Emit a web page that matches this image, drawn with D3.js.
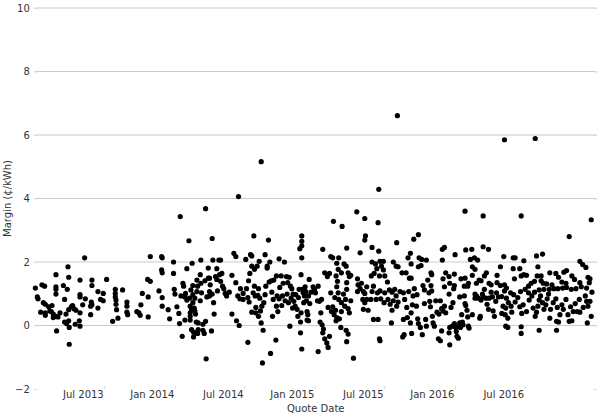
<!DOCTYPE html>
<html>
<head>
<meta charset="utf-8">
<script src="https://cdn.jsdelivr.net/npm/d3@7"></script>
<style>
  body { margin: 0; background: #fff; }
  svg { font-family: "DejaVu Sans", sans-serif; }
</style>
</head>
<body>
<svg id="chart" width="600" height="418"></svg>
<script>
// quote date as decimal year, margin in cents/kWh
const quotes2013 = [
  [2013.004,1.18],[2013.018,0.90],[2013.023,0.84],[2013.042,0.42],[2013.051,1.28],[2013.070,1.24],[2013.061,0.72],[2013.075,0.67],
  [2013.075,0.40],[2013.075,0.32],[2013.099,0.59],[2013.108,0.46],[2013.123,0.63],[2013.118,0.44],[2013.132,0.36],[2013.132,0.25],
  [2013.151,1.60],[2013.151,1.22],[2013.151,1.14],[2013.151,0.99],[2013.156,-0.17],[2013.151,0.29],[2013.166,0.27],[2013.180,0.40],
  [2013.204,1.26],[2013.213,0.82],[2013.213,0.11],[2013.223,0.36],[2013.227,0.06],[2013.232,1.14],[2013.237,1.85],[2013.242,1.52],
  [2013.242,0.50],[2013.242,0.15],[2013.246,-0.06],[2013.246,-0.59],[2013.261,0.59],[2013.270,0.63],[2013.280,0.53],[2013.289,0.04],
  [2013.294,0.48],[2013.323,1.43],[2013.323,0.97],[2013.323,0.90],[2013.323,0.40],[2013.318,0.15],[2013.323,-0.02],[2013.342,0.65],
  [2013.356,2.13],[2013.361,0.84],[2013.399,0.61],[2013.399,0.34],[2013.408,1.43],[2013.408,1.26],[2013.404,0.74],[2013.408,0.65],
  [2013.451,1.07],[2013.451,0.55],[2013.470,0.82],[2013.489,1.01],[2013.489,0.78],[2013.513,1.45],[2013.556,0.13],[2013.575,1.14],
  [2013.575,1.01],[2013.575,0.90],[2013.580,0.80],[2013.580,0.67],[2013.584,0.50],[2013.594,0.23],[2013.627,1.12],[2013.658,0.74],
  [2013.658,0.61],[2013.658,0.42],[2013.663,0.34],[2013.729,0.44],[2013.744,0.40],[2013.758,0.65],[2013.753,0.32],[2013.768,1.01],
  [2013.810,0.90],[2013.810,0.27],[2013.806,1.45],[2013.825,1.39],[2013.825,2.17],[2013.887,1.09],[2013.906,2.17],[2013.910,2.13],
  [2013.906,1.75],[2013.910,1.66],[2013.910,0.88],[2013.910,0.61],[2013.953,0.50],[2013.963,0.21],[2013.991,2.00],[2013.991,1.64],
  [2013.996,1.14]
];
const quotes2014 = [
  [2014.001,0.99],[2014.015,0.59],[2014.029,0.38],[2014.039,3.43],[2014.034,0.06],[2014.053,-0.34],[2014.044,0.93],[2014.058,1.33],
  [2014.063,1.24],[2014.072,0.90],[2014.072,0.17],[2014.077,1.01],[2014.086,1.79],[2014.086,0.80],[2014.101,2.67],[2014.105,0.86],
  [2014.110,0.61],[2014.110,0.40],[2014.110,0.29],[2014.110,0.17],[2014.115,1.12],[2014.120,-0.13],[2014.124,1.96],[2014.120,0.50],
  [2014.129,1.26],[2014.129,0.97],[2014.129,0.72],[2014.134,-0.21],[2014.134,-0.36],[2014.139,0.55],[2014.143,0.86],[2014.143,0.46],
  [2014.148,0.36],[2014.153,0.11],[2014.153,-0.23],[2014.158,1.43],[2014.158,1.07],[2014.163,1.24],[2014.167,0.08],[2014.163,-0.25],
  [2014.167,-0.13],[2014.182,1.60],[2014.182,0.78],[2014.186,2.06],[2014.186,1.33],[2014.191,1.03],[2014.201,0.04],[2014.201,-0.15],
  [2014.210,-0.25],[2014.220,3.68],[2014.224,-1.05],[2014.220,0.13],[2014.215,1.41],[2014.229,0.90],[2014.239,1.49],[2014.239,1.81],
  [2014.248,1.49],[2014.248,1.07],[2014.248,0.93],[2014.253,1.28],[2014.262,-0.17],[2014.267,2.74],[2014.267,0.99],[2014.272,2.06],
  [2014.277,0.72],[2014.281,0.36],[2014.291,1.54],[2014.300,1.79],[2014.300,1.45],[2014.305,1.09],[2014.315,2.06],[2014.320,1.60],
  [2014.617,5.16],[2014.455,4.06],[2014.327,2.06],[2014.336,1.64],[2014.327,1.39],[2014.341,1.24],[2014.350,1.16],[2014.360,1.01],
  [2014.370,0.93],[2014.389,1.05],[2014.408,1.58],[2014.408,0.36],[2014.422,2.27],[2014.436,2.17],[2014.436,1.35],[2014.441,0.15],
  [2014.450,0.93],[2014.460,0.00],[2014.469,1.16],[2014.465,0.84],[2014.488,1.01],[2014.488,0.82],[2014.507,2.08],[2014.512,1.16],
  [2014.522,-0.53],[2014.522,0.88],[2014.527,1.41],[2014.531,0.74],[2014.536,1.64],[2014.541,2.23],[2014.550,1.87],[2014.550,2.19],
  [2014.550,0.42],[2014.560,1.03],[2014.565,2.82],[2014.569,1.77],[2014.569,1.24],[2014.574,0.93],[2014.579,0.57],[2014.579,0.40],
  [2014.588,1.87],[2014.593,0.95],[2014.598,0.29],[2014.598,1.16],[2014.603,2.02],[2014.607,0.86],[2014.612,0.46],[2014.617,0.08],
  [2014.622,0.61],[2014.626,-1.18],[2014.631,-0.15],[2014.636,0.72],[2014.645,2.23],[2014.645,0.97],[2014.650,1.24],[2014.660,1.87],
  [2014.660,1.81],[2014.669,2.69],[2014.674,1.37],[2014.679,2.00],[2014.684,-0.88],[2014.688,1.41],[2014.693,1.05],[2014.698,0.29],
  [2014.703,0.82],[2014.707,1.43],[2014.722,-0.46],[2014.726,1.56],[2014.726,0.61],[2014.731,0.93],[2014.736,0.44],[2014.745,2.10],
  [2014.745,0.84],[2014.750,1.20],[2014.760,1.56],[2014.764,0.63],[2014.769,0.93],[2014.774,1.33],[2014.783,2.00],[2014.788,0.78],
  [2014.798,1.54],[2014.802,0.99],[2014.807,1.35],[2014.812,0.72],[2014.817,1.52],[2014.822,-0.02],[2014.826,1.24],[2014.831,0.86],
  [2014.836,1.16],[2014.841,0.55],[2014.845,0.99],[2014.850,0.76],[2014.860,0.61],[2014.864,0.97],[2014.874,0.51],[2014.879,0.29],
  [2014.883,0.88],[2014.888,1.14],[2014.893,2.42],[2014.898,0.11],[2014.898,-0.23],[2014.902,0.40],[2014.902,1.60],[2014.907,2.82],
  [2014.907,2.65],[2014.907,2.51],[2014.907,2.13],[2014.907,-0.74],[2014.912,1.14],[2014.917,1.03],[2014.921,0.72],[2014.926,0.93],
  [2014.931,1.22],[2014.936,1.07],[2014.940,0.78],[2014.945,0.44],[2014.945,0.17],[2014.950,0.34],[2014.955,0.93],[2014.955,0.15],
  [2014.960,1.45],[2014.964,0.69],[2014.974,1.05],[2014.988,1.22],[2014.998,1.14]
];
const quotes2015 = [
  [2015.590,6.61],[2015.457,4.29],[2015.300,3.58],[2015.133,3.28],[2015.195,3.12],[2015.357,3.37],[2015.452,3.24],[2015.362,2.82],
  [2015.357,2.69],[2015.057,2.40],[2015.228,2.44],[2015.324,2.29],[2015.409,2.46],[2015.457,2.34],[2015.585,2.61],[2015.114,2.17],
  [2015.128,2.13],[2015.171,2.13],[2015.157,1.96],[2015.167,1.77],[2015.209,1.94],[2015.224,1.87],[2015.190,1.66],[2015.071,1.66],
  [2015.105,1.64],[2015.090,1.54],[2015.152,1.56],[2015.162,1.39],[2015.157,1.22],[2015.167,1.03],[2015.143,0.88],[2015.171,0.82],
  [2015.238,1.66],[2015.247,1.54],[2015.228,1.35],[2015.228,1.14],[2015.205,0.99],[2015.219,0.82],[2015.190,0.72],[2015.214,0.61],
  [2015.238,0.53],[2015.024,1.24],[2015.005,1.03],[2015.019,0.78],[2015.033,0.76],[2015.048,0.82],[2015.043,0.40],[2015.038,0.11],
  [2015.052,0.02],[2015.062,-0.11],[2015.057,-0.23],[2015.071,-0.42],[2015.086,-0.55],[2015.095,-0.69],[2015.024,-0.82],[2015.105,-0.34],
  [2015.095,0.57],[2015.114,1.03],[2015.119,0.44],[2015.128,0.59],[2015.138,0.34],[2015.148,0.48],[2015.157,0.25],[2015.152,0.15],
  [2015.176,0.21],[2015.186,-0.06],[2015.190,0.44],[2015.224,-0.15],[2015.228,-0.51],[2015.238,-0.27],[2015.276,-1.03],[2015.247,0.40],
  [2015.257,0.78],[2015.257,1.58],[2015.305,1.47],[2015.309,1.28],[2015.305,1.07],[2015.324,1.16],[2015.333,1.33],[2015.347,1.07],
  [2015.357,1.01],[2015.371,1.22],[2015.343,0.82],[2015.357,0.72],[2015.347,0.51],[2015.381,0.48],[2015.371,0.82],[2015.400,0.82],
  [2015.409,1.07],[2015.419,1.24],[2015.404,1.56],[2015.424,1.64],[2015.409,2.00],[2015.433,1.94],[2015.443,1.79],[2015.466,2.02],
  [2015.476,1.87],[2015.490,2.02],[2015.490,1.75],[2015.462,1.56],[2015.500,1.56],[2015.447,1.03],[2015.438,0.82],[2015.466,1.09],
  [2015.471,0.84],[2015.500,1.03],[2015.495,0.72],[2015.519,1.37],[2015.533,1.12],[2015.523,0.82],[2015.538,0.67],[2015.552,1.05],
  [2015.561,0.78],[2015.419,0.19],[2015.452,0.19],[2015.462,-0.42],[2015.466,-0.48],[2015.547,0.08],[2015.552,0.48],[2015.561,2.00],
  [2015.581,1.87],[2015.595,1.85],[2015.571,1.14],[2015.581,0.93],[2015.585,0.61],[2015.595,0.74],[2015.609,1.07],[2015.623,1.66],
  [2015.633,1.03],[2015.642,0.82],[2015.652,1.66],[2015.657,0.57],[2015.661,0.25],[2015.633,0.19],[2015.628,-0.36],[2015.638,-0.29],
  [2015.671,1.07],[2015.676,1.49],[2015.666,2.13],
  [2015.740,2.86],[2015.707,2.72],[2015.926,2.46],[2015.911,2.40],[2015.911,2.06],[2015.745,2.13],[2015.764,2.08],[2015.797,2.06],
  [2015.683,2.27],[2015.688,1.94],[2015.740,1.85],[2015.759,1.89],[2015.830,1.66],[2015.835,1.60],[2015.935,1.66],[2015.959,1.54],
  [2015.997,1.62],[2015.916,1.47],[2015.807,1.43],[2015.688,1.49],[2015.711,1.16],[2015.773,1.26],[2015.830,1.26],[2015.783,1.12],
  [2015.816,1.03],[2015.835,1.09],[2015.964,1.33],[2015.926,1.22],[2015.997,1.26],[2015.992,1.16],[2015.702,0.93],[2015.730,0.97],
  [2015.726,0.61],[2015.697,0.65],[2015.688,0.40],[2015.683,0.08],[2015.692,-0.25],[2015.735,0.21],[2015.740,0.06],[2015.754,-0.06],
  [2015.768,-0.29],[2015.783,0.69],[2015.792,0.19],[2015.797,-0.02],[2015.821,0.76],[2015.826,0.59],[2015.840,0.29],[2015.845,0.08],
  [2015.854,-0.02],[2015.864,0.78],[2015.873,0.42],[2015.887,0.36],[2015.897,0.78],[2015.906,0.53],[2015.916,0.46],[2015.906,-0.17],
  [2015.883,-0.42],[2015.897,-0.48],[2015.926,0.61],[2015.935,0.40],[2015.959,0.99],[2015.973,0.57],[2015.987,0.72],[2015.964,-0.06],
  [2015.959,-0.23],[2015.964,-0.61],[2015.983,-0.02],[2015.997,0.06]
];
const quotes2016 = [
  [2016.073,3.60],[2016.202,3.45],[2016.078,2.38],[2016.121,2.40],[2016.202,2.48],[2016.240,2.40],[2016.002,2.23],[2016.111,2.08],
  [2016.140,2.13],[2016.163,2.06],[2016.125,1.85],[2016.144,1.77],[2016.225,1.66],[2016.211,1.56],[2016.125,1.58],[2016.044,1.47],
  [2016.073,1.49],[2016.301,1.58],[2016.173,1.43],[2016.187,1.41],[2016.154,1.33],[2016.244,1.33],[2016.259,1.28],[2016.301,1.35],
  [2016.068,1.24],[2016.092,1.24],[2016.097,1.33],[2016.006,-0.06],[2016.011,-0.19],[2016.016,-0.34],[2016.025,-0.40],[2016.035,0.90],
  [2016.035,0.08],[2016.030,-0.02],[2016.040,-0.06],[2016.049,0.34],[2016.054,0.11],[2016.059,0.02],[2016.068,0.93],[2016.073,0.69],
  [2016.078,0.63],[2016.087,0.48],[2016.092,0.27],[2016.097,-0.02],[2016.102,-0.08],[2016.125,0.34],[2016.144,0.99],[2016.144,0.86],
  [2016.154,0.93],[2016.168,0.86],[2016.182,0.29],[2016.178,0.23],[2016.187,0.80],[2016.197,0.99],[2016.202,0.90],[2016.211,1.14],
  [2016.221,0.86],[2016.230,0.67],[2016.240,0.51],[2016.244,0.86],[2016.259,1.05],[2016.268,0.90],[2016.273,0.46],[2016.282,0.29],
  [2016.292,0.76],[2016.297,1.03],[2016.311,0.90],
  [2016.354,5.85],[2016.573,5.89],[2016.473,3.45],[2016.972,3.33],[2016.815,2.80],[2016.349,2.17],[2016.416,2.13],[2016.430,2.13],
  [2016.492,2.04],[2016.582,2.19],[2016.625,2.25],[2016.891,2.02],[2016.911,1.92],[2016.934,1.83],[2016.325,1.85],[2016.416,1.79],
  [2016.463,1.79],[2016.473,1.56],[2016.492,1.60],[2016.511,1.58],[2016.425,1.47],[2016.592,1.85],[2016.587,1.56],[2016.615,1.56],
  [2016.677,1.66],[2016.720,1.64],[2016.739,1.52],[2016.777,1.68],[2016.796,1.73],[2016.834,1.56],[2016.853,1.45],[2016.891,1.35],
  [2016.949,1.52],[2016.963,1.47],[2016.958,1.35],[2016.568,1.39],[2016.544,1.33],[2016.525,1.24],[2016.615,1.41],[2016.630,1.33],
  [2016.654,1.31],[2016.692,1.28],[2016.763,1.37],[2016.792,1.33],[2016.325,1.26],[2016.354,1.28],[2016.368,1.18],[2016.354,1.09],
  [2016.397,1.03],[2016.420,0.97],[2016.468,1.07],[2016.501,1.14],[2016.525,1.03],[2016.568,1.05],[2016.601,1.12],[2016.635,1.14],
  [2016.673,1.14],[2016.706,1.16],[2016.734,1.16],[2016.768,1.18],[2016.796,1.20],[2016.830,1.14],[2016.863,1.16],[2016.901,1.22],
  [2016.939,1.18],[2016.977,1.05],[2016.335,0.91],[2016.368,0.86],[2016.382,0.72],[2016.344,0.61],[2016.363,0.55],[2016.401,0.61],
  [2016.335,0.38],[2016.359,0.34],[2016.378,0.23],[2016.406,0.42],[2016.430,0.74],[2016.449,0.88],[2016.463,0.59],[2016.477,0.38],
  [2016.487,0.65],[2016.511,0.44],[2016.530,0.80],[2016.549,0.93],[2016.558,0.55],[2016.573,0.29],[2016.582,0.42],[2016.592,0.61],
  [2016.601,0.80],[2016.611,0.93],[2016.625,0.72],[2016.635,0.51],[2016.649,0.65],[2016.658,0.84],[2016.668,0.99],[2016.677,0.23],
  [2016.682,0.51],[2016.701,0.72],[2016.720,0.84],[2016.730,0.57],[2016.725,0.13],[2016.739,0.11],[2016.749,0.34],[2016.763,0.65],
  [2016.773,0.51],[2016.792,0.82],[2016.806,0.34],[2016.815,0.13],[2016.825,0.59],[2016.834,0.15],[2016.844,0.44],[2016.858,0.69],
  [2016.872,0.44],[2016.887,0.82],[2016.891,0.42],[2016.915,0.57],[2016.930,0.93],[2016.939,0.76],[2016.949,0.61],[2016.963,0.76],
  [2016.972,0.29],[2016.944,0.08],[2016.363,-0.02],[2016.378,-0.06],[2016.473,-0.04],[2016.473,-0.25],[2016.601,-0.15],[2016.725,-0.15]
];

const yTicks = [-2, 0, 2, 4, 6, 8, 10];
const xTickLabels = ["Jul 2013", "Jan 2014", "Jul 2014", "Jan 2015", "Jul 2015", "Jan 2016", "Jul 2016"];

// decimal year -> Date
function toDate(t) {
  const yr = Math.floor(t);
  const s = Date.UTC(yr, 0, 1), e = Date.UTC(yr + 1, 0, 1);
  return new Date(s + (t - yr) * (e - s));
}

const data = [].concat(quotes2013, quotes2014, quotes2015, quotes2016)
  .map(d => ({ date: toDate(d[0]), margin: d[1] }));

const svg = d3.select("#chart");
const plotLeft = 34.8, plotRight = 596.7, plotTop = 8, plotBottom = 389;

const x = d3.scaleUtc()
  .domain([new Date(Date.UTC(2013, 0, 1)), new Date(Date.UTC(2017, 0, 5))])
  .range([plotLeft, plotRight]);
const y = d3.scaleLinear().domain([-2, 10]).range([plotBottom, plotTop]);

const parseTick = d3.utcParse("%b %Y");
const xTicks = xTickLabels.map(parseTick);

// grid lines
svg.append("g")
  .selectAll("line")
  .data(yTicks.filter(d => d > -2))
  .join("line")
  .attr("x1", plotLeft).attr("x2", plotRight)
  .attr("y1", d => y(d)).attr("y2", d => y(d))
  .attr("stroke", "#cbcbcb")
  .attr("stroke-width", 1);

// y axis
const yAxis = svg.append("g")
  .attr("transform", `translate(${plotLeft + 2},0)`)
  .call(d3.axisLeft(y).tickValues(yTicks).tickSize(3).tickPadding(4));
yAxis.select(".domain").remove();
yAxis.selectAll(".tick line").attr("stroke", "#d8d8d8");
yAxis.selectAll(".tick text")
  .attr("fill", "#333")
  .style("font-size", "10px")
  .style("font-family", "DejaVu Sans");

// right ticks
const yAxisR = svg.append("g")
  .attr("transform", `translate(${plotRight - 3},0)`)
  .call(d3.axisRight(y).tickValues(yTicks).tickSize(3).tickFormat(""));
yAxisR.select(".domain").remove();
yAxisR.selectAll(".tick line").attr("stroke", "#d8d8d8");

// x axis
const xAxis = svg.append("g")
  .attr("transform", `translate(0,${plotBottom - 3})`)
  .call(d3.axisBottom(x).tickValues(xTicks).tickSize(3).tickPadding(4)
    .tickFormat(d3.utcFormat("%b %Y")));
xAxis.select(".domain").remove();
xAxis.selectAll(".tick line").attr("stroke", "#d8d8d8");
xAxis.selectAll(".tick text")
  .attr("text-anchor", "end")
  .attr("x", -1)
  .attr("y", 5)
  .attr("fill", "#333")
  .style("font-size", "10px")
  .style("font-family", "DejaVu Sans");

// points
svg.append("g")
  .selectAll("circle")
  .data(data)
  .join("circle")
  .attr("cx", d => x(d.date))
  .attr("cy", d => y(d.margin))
  .attr("r", 2.6)
  .attr("fill", "#000");

// axis titles
svg.append("text")
  .attr("x", (plotLeft + plotRight) / 2)
  .attr("y", 412)
  .attr("text-anchor", "middle")
  .attr("fill", "#333")
  .style("font-size", "10px")
  .text("Quote Date");

svg.append("text")
  .attr("transform", `translate(11,${(plotTop + plotBottom) / 2}) rotate(-90)`)
  .attr("text-anchor", "middle")
  .attr("fill", "#333")
  .style("font-size", "10px")
  .text("Margin (¢/kWh)");
</script>
</body>
</html>
